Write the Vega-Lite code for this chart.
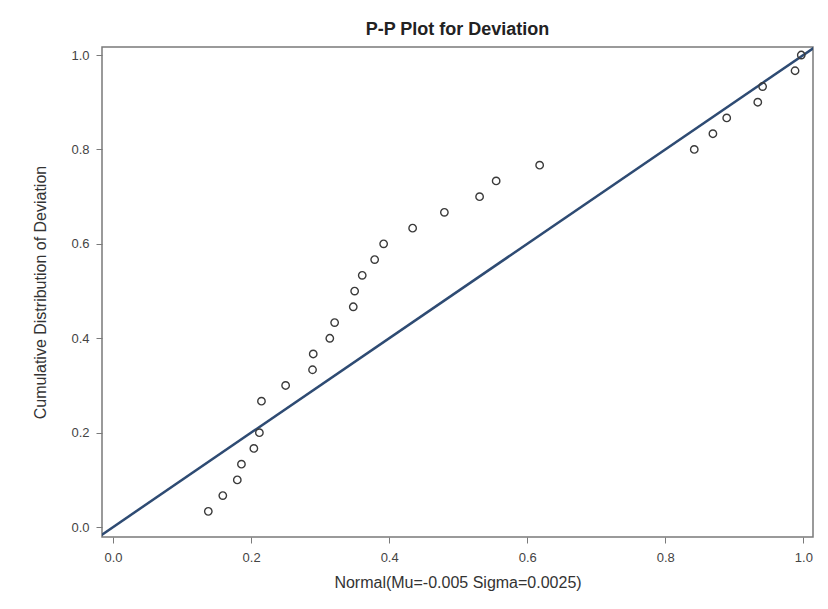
{
  "$schema": "https://vega.github.io/schema/vega-lite/v6.json",
  "width": 711,
  "height": 490,
  "autosize": {"type": "none"},
  "padding": {"left": 102, "top": 47, "right": 15, "bottom": 72},
  "background": "white",
  "title": {"text": "P-P Plot for Deviation", "font": "Liberation Sans", "fontSize": 18, "fontWeight": "bold", "color": "#222222", "offset": 8},
  "config": {
    "view": {"stroke": "#7a7a7a", "strokeWidth": 1.5},
    "axis": {
      "grid": false,
      "domain": false,
      "tickColor": "#7a7a7a",
      "tickSize": 6,
      "labelFont": "Liberation Sans",
      "labelFontSize": 13,
      "labelColor": "#444444",
      "titleFont": "Liberation Sans",
      "titleFontSize": 16,
      "titleFontWeight": "normal",
      "titleColor": "#333333"
    }
  },
  "datasets": {
    "pp": [
      {"normal": 0.138, "cdf": 0.0333},
      {"normal": 0.159, "cdf": 0.0667},
      {"normal": 0.180, "cdf": 0.1},
      {"normal": 0.186, "cdf": 0.1333},
      {"normal": 0.204, "cdf": 0.1667},
      {"normal": 0.212, "cdf": 0.2},
      {"normal": 0.215, "cdf": 0.2667},
      {"normal": 0.250, "cdf": 0.3},
      {"normal": 0.289, "cdf": 0.3333},
      {"normal": 0.290, "cdf": 0.3667},
      {"normal": 0.314, "cdf": 0.4},
      {"normal": 0.321, "cdf": 0.4333},
      {"normal": 0.348, "cdf": 0.4667},
      {"normal": 0.350, "cdf": 0.5},
      {"normal": 0.361, "cdf": 0.5333},
      {"normal": 0.379, "cdf": 0.5667},
      {"normal": 0.392, "cdf": 0.6},
      {"normal": 0.434, "cdf": 0.6333},
      {"normal": 0.480, "cdf": 0.6667},
      {"normal": 0.531, "cdf": 0.7},
      {"normal": 0.555, "cdf": 0.7333},
      {"normal": 0.618, "cdf": 0.7667},
      {"normal": 0.842, "cdf": 0.8},
      {"normal": 0.869, "cdf": 0.8333},
      {"normal": 0.889, "cdf": 0.8667},
      {"normal": 0.934, "cdf": 0.9},
      {"normal": 0.941, "cdf": 0.9333},
      {"normal": 0.988, "cdf": 0.9667},
      {"normal": 0.997, "cdf": 1.0}
    ],
    "ref": [
      {"p": -0.05},
      {"p": 1.05}
    ]
  },
  "encoding": {
    "x": {
      "type": "quantitative",
      "scale": {"domain": [-0.016, 1.014], "nice": false, "zero": false},
      "axis": {"values": [0, 0.2, 0.4, 0.6, 0.8, 1.0], "format": ".1f", "labelPadding": 8, "titlePadding": 10, "title": "Normal(Mu=-0.005 Sigma=0.0025)"}
    },
    "y": {
      "type": "quantitative",
      "scale": {"domain": [-0.021, 1.017], "nice": false, "zero": false},
      "axis": {"values": [0, 0.2, 0.4, 0.6, 0.8, 1.0], "format": ".1f", "labelPadding": 7, "titlePadding": 22, "title": "Cumulative Distribution of Deviation"}
    }
  },
  "layer": [
    {
      "data": {"name": "ref"},
      "mark": {"type": "line", "color": "#2e4b73", "strokeWidth": 2.5, "clip": true},
      "encoding": {
        "x": {"field": "p"},
        "y": {"field": "p"}
      }
    },
    {
      "data": {"name": "pp"},
      "mark": {"type": "point", "shape": "circle", "filled": false, "size": 55, "stroke": "#3a3a3a", "strokeWidth": 1.4, "opacity": 1},
      "encoding": {
        "x": {"field": "normal"},
        "y": {"field": "cdf"}
      }
    }
  ]
}
